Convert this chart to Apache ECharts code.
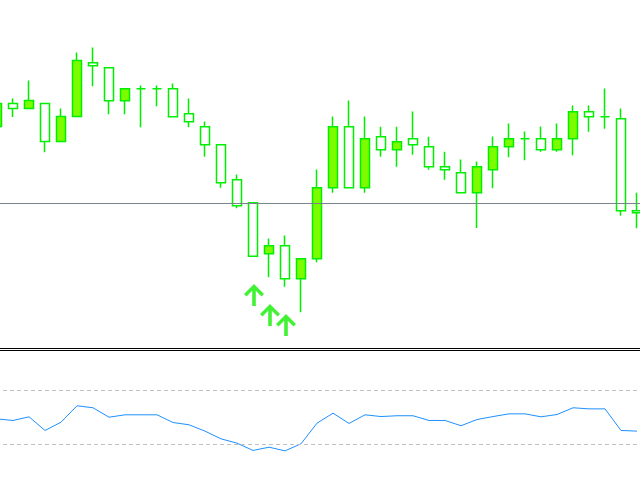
<!DOCTYPE html>
<html>
<head>
<meta charset="utf-8">
<script src="https://cdn.jsdelivr.net/npm/echarts@6/dist/echarts.min.js"></script>
<style>
html,body{margin:0;padding:0;background:#fff;}
#c{width:640px;height:480px;}
</style>
</head>
<body>
<div id="c"></div>
<script>
const categories = ['03:00','04:00','05:00','06:00','07:00','08:00','09:00','10:00','11:00','12:00',
  '13:00','14:00','15:00','16:00','17:00','18:00','19:00','20:00','21:00','22:00',
  '23:00','00:00','01:00','02:00','03:00','04:00','05:00','06:00','07:00','08:00',
  '09:00','10:00','11:00','12:00','13:00','14:00','15:00','16:00','17:00','18:00','19:00'];

const opens  = [1.3077,1.3100,1.3095,1.3100,1.3062,1.3087,1.31407,1.31357,1.31027,1.31147,
  1.31147,1.31147,1.30897,1.30767,1.30587,1.30237,1.30007,1.29497,1.29577,1.29247,
  1.29447,1.30157,1.30767,1.30157,1.30667,1.30537,1.30647,1.30567,1.30367,1.30307,
  1.30107,1.30337,1.30567,1.30647,1.30647,1.30537,1.30647,1.30917,1.30867,1.30847,1.29927];
const closes = [1.3100,1.3095,1.3103,1.3062,1.3087,1.3143,1.31377,1.31027,1.31147,1.31147,
  1.31147,1.30867,1.30817,1.30587,1.30207,1.29977,1.29473,1.29577,1.29247,1.29447,
  1.30157,1.30767,1.30157,1.30647,1.30537,1.30617,1.30587,1.30367,1.30337,1.30107,
  1.30367,1.30567,1.30647,1.30647,1.30537,1.30647,1.30917,1.30867,1.30867,1.29927,1.29907];
const lows   = [1.3074,1.30865,1.3095,1.30513,1.3062,1.3087,1.31173,1.30893,1.30893,1.30763,
  1.30973,1.30867,1.30763,1.30467,1.30157,1.29953,1.29473,1.29263,1.29167,1.28913,
  1.29413,1.30107,1.30157,1.30107,1.30467,1.30367,1.30487,1.30337,1.30237,1.30107,
  1.29755,1.30153,1.30463,1.30433,1.30517,1.30517,1.30483,1.30717,1.30747,1.29877,1.29753];
const highs  = [1.3104,1.3105,1.3123,1.3100,1.3095,1.3151,1.3156,1.31357,1.31147,1.3118,
  1.3118,1.3120,1.3105,1.3082,1.30587,1.3029,1.30007,1.2965,1.2968,1.29447,
  1.3034,1.3087,1.3103,1.3087,1.30767,1.30767,1.3092,1.30667,1.30517,1.3044,
  1.3042,1.3067,1.3080,1.3072,1.3077,1.3080,1.3098,1.3098,1.3115,1.3095,1.30107];

const levelPrice = 1.3000;

const arrowIdx   = [16,17,18];
const arrowPrice = [1.29085,1.28885,1.28785];

const oscValues = [49.0,47.8,50.5,40.4,46.5,58.7,57.2,50.2,52.0,52.0,
  52.0,46.3,44.6,39.9,34.2,31.0,25.6,28.0,25.3,30.5,
  45.8,53.2,45.6,52.0,50.7,51.3,51.3,47.8,47.8,43.9,
  48.5,50.7,52.7,52.7,50.5,52.2,57.2,56.4,56.4,40.4,39.9];
const oscLevels = [70,30];

const candleData = opens.map((o,i)=>[o, closes[i], lows[i], highs[i]]);
const arrowData = arrowIdx.map((k,i)=>[k, arrowPrice[i]]);

const chart = echarts.init(document.getElementById('c'), null, {renderer:'canvas'});
chart.setOption({
  animation:false,
  backgroundColor:'#ffffff',
  grid:[
    {left:-11, width:656, top:-0.5, height:348, outerBoundsMode:'none', containLabel:false},
    {left:-11, width:656, top:350, height:135, outerBoundsMode:'none', containLabel:false}
  ],
  xAxis:[
    {type:'category', gridIndex:0, data:categories, show:false, boundaryGap:true},
    {type:'category', gridIndex:1, data:categories, show:false, boundaryGap:true}
  ],
  yAxis:[
    {type:'value', gridIndex:0, min:1.2856, max:1.3204, show:false, splitLine:{show:false}},
    {type:'value', gridIndex:1, min:0, max:100, show:false, splitLine:{show:false}}
  ],
  graphic:[
    {type:'line', shape:{x1:0,y1:348.5,x2:640,y2:348.5}, style:{stroke:'#000',lineWidth:1}, silent:true},
    {type:'line', shape:{x1:0,y1:350.5,x2:640,y2:350.5}, style:{stroke:'#000',lineWidth:1}, silent:true}
  ],
  series:[
    {
      type:'line',
      name:'level',
      xAxisIndex:0, yAxisIndex:0,
      data:[],
      silent:true,
      markLine:{
        symbol:'none', silent:true, label:{show:false},
        itemStyle:{color:'#7a838c'},
        lineStyle:{color:'#7a838c', width:1, type:'solid', opacity:1},
        emphasis:{disabled:true},
        data:[{yAxis:levelPrice, lineStyle:{color:'#7a838c'}}]
      }
    },
    {
      type:'candlestick',
      xAxisIndex:0, yAxisIndex:0,
      data:candleData,
      barWidth:10,
      itemStyle:{
        color:'#7cfc00', color0:'#ffffff',
        borderColor:'#00ee00', borderColor0:'#00ee00', borderColorDoji:'#00ee00',
        borderWidth:1.5
      }
    },
    {
      type:'scatter',
      xAxisIndex:0, yAxisIndex:0,
      data:arrowData,
      symbol:'path://M10,0 L20,10 L17.5,12.5 L11.8,6.8 L11.8,22 L8.2,22 L8.2,6.8 L2.5,12.5 L0,10 Z',
      symbolSize:[20,22],
      symbolOffset:[1,0],
      itemStyle:{color:'#11ee00'},
      silent:true
    },
    {
      type:'line',
      xAxisIndex:1, yAxisIndex:1,
      data:oscValues,
      symbol:'none',
      lineStyle:{color:'#1e90ff', width:1},
      silent:true,
      markLine:{
        symbol:'none', silent:true, label:{show:false},
        lineStyle:{color:'#c0c0c0', width:1, type:[4,3]},
        emphasis:{disabled:true},
        data:oscLevels.map(v=>({yAxis:v}))
      }
    }
  ]
});
</script>
</body>
</html>
